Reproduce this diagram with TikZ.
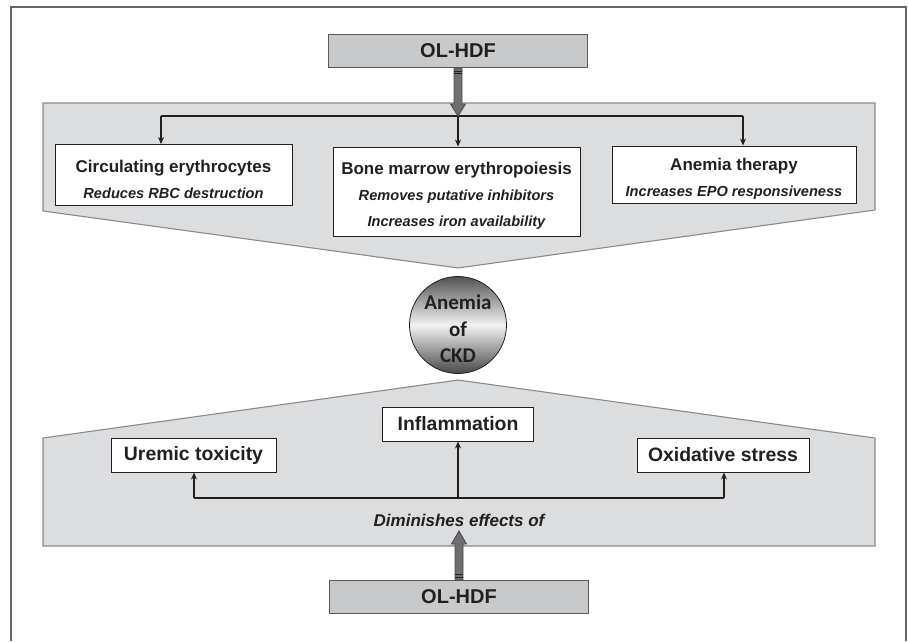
\documentclass[tikz,border=0pt]{standalone}
\usepackage{fontspec}
\setmainfont{Liberation Sans}
\newfontfamily\calib{Carlito}
\usetikzlibrary{arrows.meta,calc}
\definecolor{panelfill}{HTML}{DCDDDF}
\definecolor{paneldraw}{HTML}{8A8A8A}
\definecolor{olfill}{HTML}{C8C9CA}
\definecolor{oldraw}{HTML}{5A5A5A}
\definecolor{arrfill}{HTML}{6E6F71}
\definecolor{ink}{HTML}{231F20}
\definecolor{frame}{HTML}{666666}
\tikzset{
  panel/.style={fill=panelfill,draw=paneldraw,line width=1.1pt},
  wbox/.style={draw=ink,fill=white,line width=1pt,inner sep=0pt,align=center,text=ink},
  btxt/.style={inner sep=0pt,align=center,text=ink},
  olbox/.style={draw=oldraw,fill=olfill,line width=1pt,inner sep=0pt,text=ink,
     font=\fontsize{20}{24}\selectfont\bfseries,minimum width=259pt,minimum height=33pt},
  conn/.style={draw=ink,line width=1.3pt},
  connarr/.style={conn,-{Stealth[length=7pt,width=6pt]}},
  bigarr/.style={fill=arrfill,draw=ink!80,line width=0.9pt,line join=miter},
  ttl/.style={font=\fontsize{17}{26}\selectfont\bfseries},
  ttlb/.style={font=\fontsize{19.4}{24}\selectfont\bfseries},
}
\newcommand{\subt}[1]{{\fontsize{14.6}{26}\selectfont\bfseries\itshape #1}}
\begin{document}
\begin{tikzpicture}[x=1pt,y=-1pt]
\useasboundingbox (0,0) rectangle (908,641);
% frame
\draw[frame,line width=2pt] (11,641) -- (11,7) -- (906,7) -- (906,641);
% panels
\draw[panel] (43,103) -- (875,103) -- (875,210) -- (458,268) -- (43,211) -- cycle;
\draw[panel] (43,438) -- (458,380) -- (875,438) -- (875,546) -- (43,546) -- cycle;
% OL-HDF boxes
\node[olbox] (ol1) at (458,51) {OL-HDF};
\node[olbox] (ol2) at (459,597) {OL-HDF};
% top boxes
\node[wbox,minimum width=237pt,minimum height=61pt] (b1) at (173.5,175) {};
\node[btxt,ttl] (b1t) at ($(b1.center)+(0,4)$)
  {Circulating erythrocytes\\\subt{Reduces RBC destruction}};
\node[wbox,minimum width=247pt,minimum height=89pt] (b2) at (456.5,191.5) {};
\node[btxt,ttl] (b2t) at ($(b2.center)+(0,4)$)
  {Bone marrow erythropoiesis\\\subt{Removes putative inhibitors}\\\subt{Increases iron availability}};
\node[wbox,minimum width=244pt,minimum height=57pt] (b3) at (734,174.5) {};
\node[btxt,ttl] (b3t) at ($(b3.center)+(0,4)$)
  {Anemia therapy\\\subt{Increases EPO responsiveness}};
% circle
\node[circle,draw=ink,line width=0.8pt,minimum size=97pt,inner sep=0pt,
  top color=black!68,bottom color=black!72,middle color=black!5] (ckd) at (458,325) {};
\node[btxt,font=\calib\fontsize{21}{26.5}\selectfont\bfseries] (ckdt) at ($(ckd.center)+(0,4)$)
  {Anemia\\of\\CKD};
% bottom boxes
\node[wbox,ttlb,minimum width=165pt,minimum height=34pt] (ut) at (193.5,455) {Uremic toxicity};
\node[wbox,ttlb,minimum width=151pt,minimum height=34pt] (inf) at (458,424) {Inflammation};
\node[wbox,ttlb,minimum width=172pt,minimum height=34pt] (ox) at (723,455) {Oxidative stress};
\node[text=ink,font=\fontsize{17}{20}\selectfont\bfseries\itshape] (dim) at (459,520) {Diminishes effects of};
% top connectors
\coordinate (h1) at (161,116);
\coordinate (h2) at (458,116);
\coordinate (h3) at (743,116);
\draw[conn] (h1) -- (h3);
\draw[connarr] (h1) -- (h1 |- b1.north);
\draw[connarr] (h2) -- (h2 |- b2.north);
\draw[connarr] (h3) -- (h3 |- b3.north);
% bottom connectors
\coordinate (u1) at (194,498);
\coordinate (u2) at (458,498);
\coordinate (u3) at (724,498);
\draw[conn] (u1) -- (u3);
\draw[connarr] (u1) -- (u1 |- ut.south);
\draw[connarr] (u2) -- (u2 |- inf.south);
\draw[connarr] (u3) -- (u3 |- ox.south);
% big arrows
\coordinate (ta) at (ol1.south |- h2);
\draw[bigarr] ($(ol1.south)+(-4,0)$) -- ($(ta)+(-4,-12)$) -- ($(ta)+(-7.5,-12)$) -- (ta)
  -- ($(ta)+(7.5,-12)$) -- ($(ta)+(4,-12)$) -- ($(ol1.south)+(4,0)$) -- cycle;
\draw[ink,line width=0.8pt] ($(ol1.south)+(-4,3)$) -- ($(ol1.south)+(4,3)$);
\draw[ink,line width=0.8pt] ($(ol1.south)+(-4,5.5)$) -- ($(ol1.south)+(4,5.5)$);
\coordinate (tb) at ($(ol2.north)+(0,-49)$);
\draw[bigarr] ($(ol2.north)+(-4,0)$) -- ($(tb)+(-4,13)$) -- ($(tb)+(-7.5,13)$) -- (tb)
  -- ($(tb)+(7.5,13)$) -- ($(tb)+(4,13)$) -- ($(ol2.north)+(4,0)$) -- cycle;
\draw[ink,line width=0.8pt] ($(ol2.north)+(-4,-3)$) -- ($(ol2.north)+(4,-3)$);
\draw[ink,line width=0.8pt] ($(ol2.north)+(-4,-5.5)$) -- ($(ol2.north)+(4,-5.5)$);
\end{tikzpicture}
\end{document}
